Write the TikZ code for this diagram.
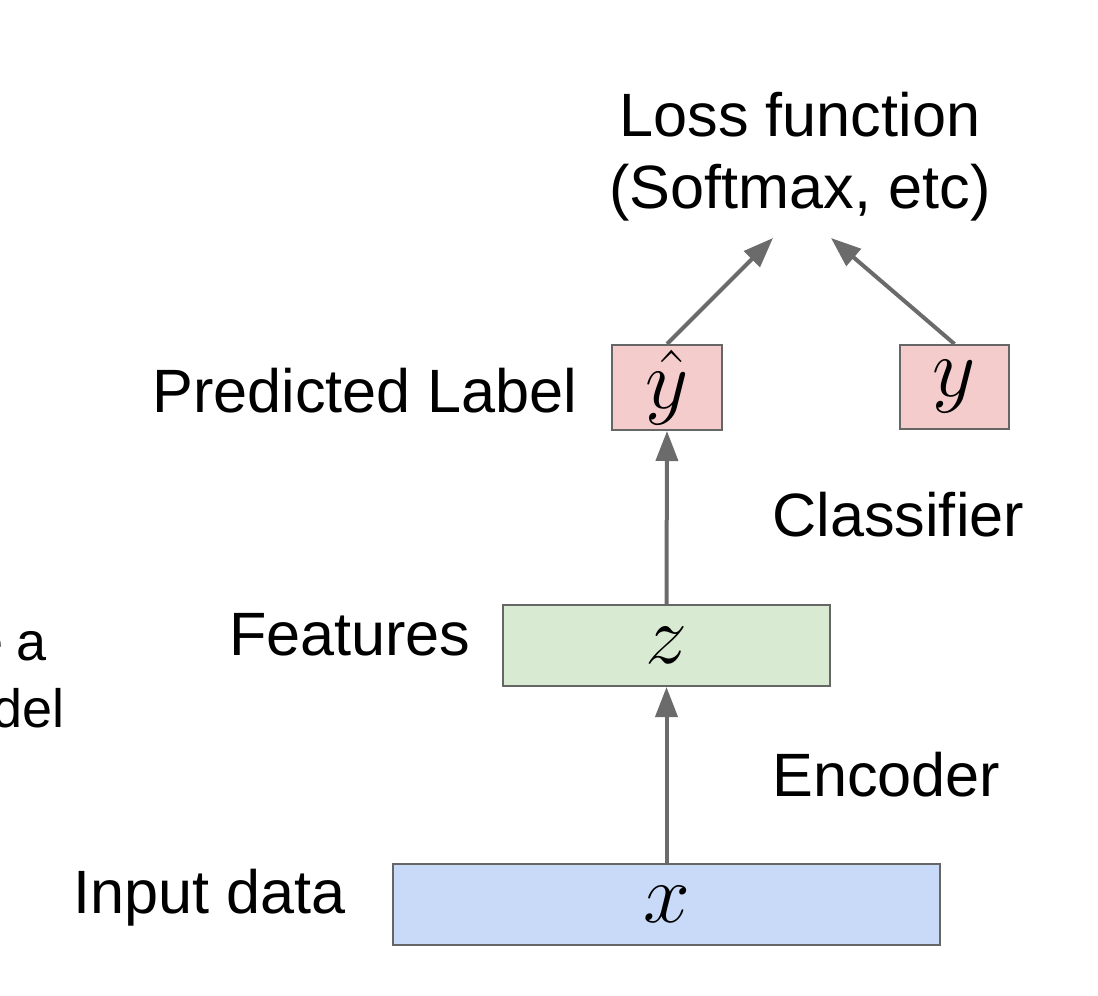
\RequirePackage{fix-cm}
\documentclass[tikz,border=0pt]{standalone}
\usepackage[no-math]{fontspec}
\setmainfont{Liberation Sans}
\usepackage{amsmath}
\usepackage{xcolor}
\usetikzlibrary{arrows.meta}

\definecolor{boxgray}{HTML}{666666}
\definecolor{arrowgray}{HTML}{6B6B6B}
\definecolor{labelpink}{HTML}{F4CCCC}
\definecolor{featgreen}{HTML}{D9EAD3}
\definecolor{inputblue}{HTML}{C9DAF8}

\tikzset{
    box/.style={draw=boxgray, line width=1pt, inner sep=0pt, font=\fontsize{42}{42}\selectfont},
    lbl/.style={inner sep=0pt, font=\fontsize{30.6}{36}\selectfont},
    cutlbl/.style={inner sep=0pt, font=\fontsize{27}{32}\selectfont},
    arr/.style={draw=arrowgray, line width=2pt, -{Triangle[length=15pt,width=11pt]}}
}

\begin{document}
\begin{tikzpicture}[x=0.5pt, y=-0.5pt]
    \useasboundingbox (0,0) rectangle (1098,996);
    % boxes
    \node[box, fill=inputblue, minimum width=273.5pt, minimum height=40.5pt] (xin) at (666.5,904.5) {$x$};
    \node[box, fill=featgreen, minimum width=163.5pt, minimum height=40.5pt] (feat) at (666.5,645.5) {$z$};
    \node[box, fill=labelpink, minimum width=55pt, minimum height=42.5pt] (yhat) at (667,387.5) {$\hat{y}$};
    \node[box, fill=labelpink, minimum width=54.5pt, minimum height=42pt] (ytrue) at (954.5,387) {$y$};
    % texts
    \node[lbl, align=center] (loss) at (800,157) {Loss function\\(Softmax, etc)};
    \node[lbl, anchor=base east] (predlbl) at (578,412) {Predicted Label};
    \node[lbl, anchor=base east] (featlbl) at (471,655) {Features};
    \node[lbl, anchor=base east] (inlbl) at (346,913) {Input data};
    \node[lbl, anchor=base west] (clslbl) at (772,536) {Classifier};
    \node[lbl, anchor=base west] (enclbl) at (772,796) {Encoder};
    \node[cutlbl, anchor=base east] (cut1) at (47,660) {\spaceskip=0.24em e a};
    \node[cutlbl, anchor=base east] (cut2) at (65,727) {del};
    % arrows
    \coordinate (lossin1) at (773,238);
    \coordinate (lossin2) at (831,238);
    \draw[arr] (xin.north) -- (feat.south);
    \draw[arr] (feat.north) -- (yhat.south);
    \draw[arr] (yhat.north) -- (lossin1);
    \draw[arr] (ytrue.north) -- (lossin2);
\end{tikzpicture}
\end{document}
